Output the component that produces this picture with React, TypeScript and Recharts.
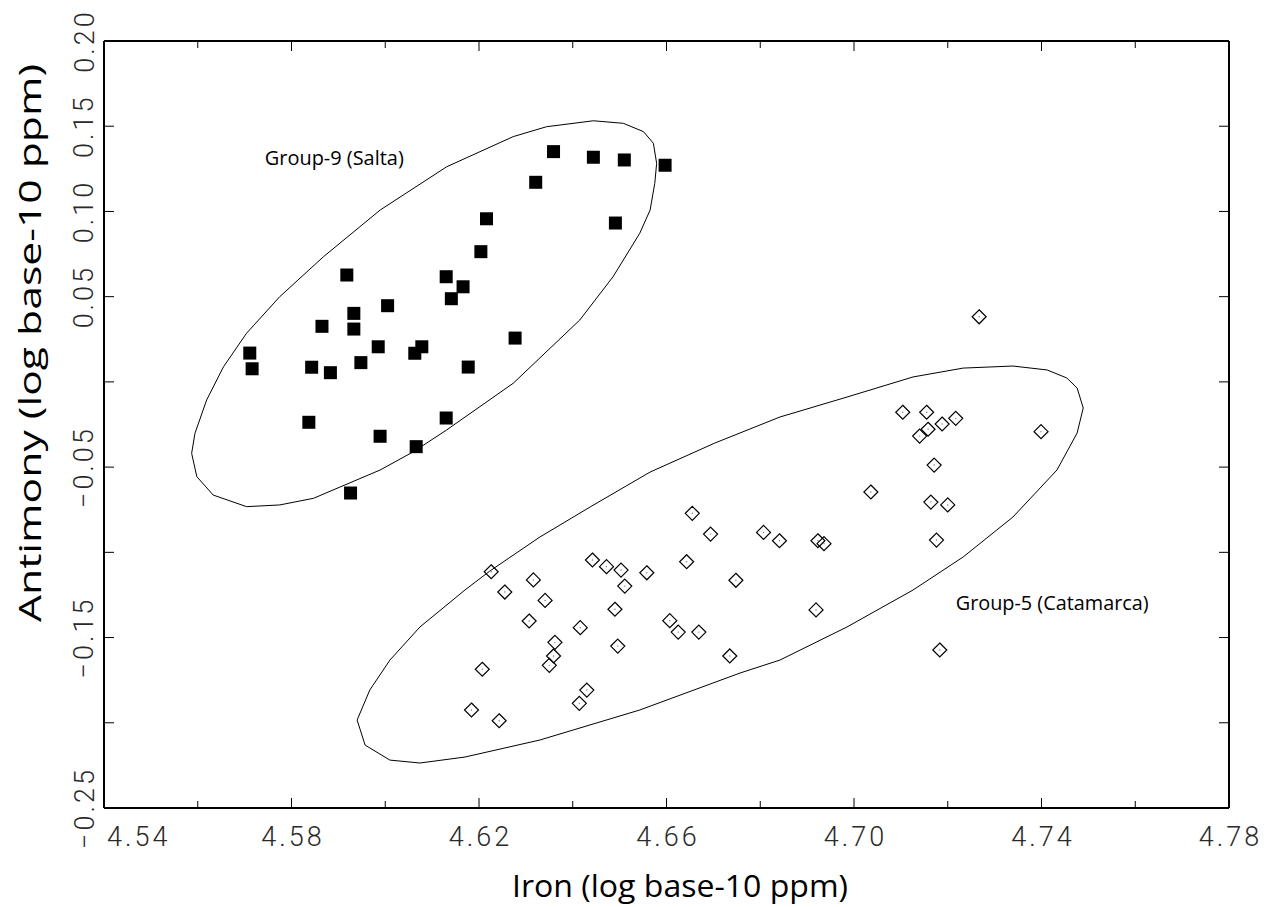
import { ScatterChart, Scatter, XAxis, YAxis, ReferenceDot } from 'recharts'

// Group-9 (Salta) – filled squares
const salta = [
  { x: 4.6359, y: 0.1351 }, { x: 4.6444, y: 0.1318 }, { x: 4.651, y: 0.1302 },
  { x: 4.6597, y: 0.1271 }, { x: 4.6321, y: 0.1171 }, { x: 4.6216, y: 0.0957 },
  { x: 4.6491, y: 0.0932 }, { x: 4.6204, y: 0.0764 }, { x: 4.5918, y: 0.0627 },
  { x: 4.613, y: 0.0617 }, { x: 4.6166, y: 0.0558 }, { x: 4.6141, y: 0.0488 },
  { x: 4.6005, y: 0.0447 }, { x: 4.5933, y: 0.0402 }, { x: 4.5865, y: 0.0326 },
  { x: 4.5933, y: 0.031 }, { x: 4.6277, y: 0.0257 }, { x: 4.5985, y: 0.0206 },
  { x: 4.6078, y: 0.0206 }, { x: 4.6063, y: 0.0168 }, { x: 4.5711, y: 0.0169 },
  { x: 4.5948, y: 0.0113 }, { x: 4.6177, y: 0.0087 }, { x: 4.5716, y: 0.0077 },
  { x: 4.5843, y: 0.0086 }, { x: 4.5883, y: 0.0054 }, { x: 4.5837, y: -0.0237 },
  { x: 4.613, y: -0.0212 }, { x: 4.5989, y: -0.0319 }, { x: 4.6066, y: -0.038 },
  { x: 4.5926, y: -0.0652 },
]

// Group-5 (Catamarca) – open diamonds
const catamarca = [
  { x: 4.6655, y: -0.0771 }, { x: 4.6694, y: -0.0893 }, { x: 4.6807, y: -0.0883 },
  { x: 4.6841, y: -0.0932 }, { x: 4.6442, y: -0.1045 }, { x: 4.6472, y: -0.1084 },
  { x: 4.6503, y: -0.1104 }, { x: 4.6558, y: -0.112 }, { x: 4.6643, y: -0.1055 },
  { x: 4.6226, y: -0.1114 }, { x: 4.6316, y: -0.1162 }, { x: 4.6511, y: -0.1198 },
  { x: 4.6748, y: -0.1164 }, { x: 4.6255, y: -0.1233 }, { x: 4.6341, y: -0.1282 },
  { x: 4.649, y: -0.1334 }, { x: 4.6307, y: -0.1403 }, { x: 4.6416, y: -0.1442 },
  { x: 4.6607, y: -0.1401 }, { x: 4.6625, y: -0.1468 }, { x: 4.6669, y: -0.1468 },
  { x: 4.6362, y: -0.1528 }, { x: 4.6359, y: -0.1608 }, { x: 4.635, y: -0.1663 },
  { x: 4.6496, y: -0.155 }, { x: 4.6735, y: -0.1608 }, { x: 4.6207, y: -0.1686 },
  { x: 4.643, y: -0.1808 }, { x: 4.6414, y: -0.1886 }, { x: 4.6184, y: -0.1925 },
  { x: 4.6243, y: -0.1988 }, { x: 4.7267, y: 0.0382 }, { x: 4.7104, y: -0.0178 },
  { x: 4.7155, y: -0.0178 }, { x: 4.7217, y: -0.0214 }, { x: 4.7188, y: -0.0247 },
  { x: 4.7158, y: -0.0278 }, { x: 4.714, y: -0.0318 }, { x: 4.7399, y: -0.0292 },
  { x: 4.7171, y: -0.0488 }, { x: 4.7036, y: -0.0646 }, { x: 4.7164, y: -0.0705 },
  { x: 4.72, y: -0.0722 }, { x: 4.6923, y: -0.0932 }, { x: 4.6936, y: -0.0949 },
  { x: 4.7176, y: -0.0928 }, { x: 4.6919, y: -0.1338 }, { x: 4.7183, y: -0.1573 },
]

// group outlines
const saltaEllipse = [
  { x: 4.6444, y: 0.1532 }, { x: 4.6508, y: 0.1517 }, { x: 4.6551, y: 0.1468 },
  { x: 4.6572, y: 0.14 }, { x: 4.6579, y: 0.1282 }, { x: 4.6575, y: 0.1165 },
  { x: 4.6565, y: 0.1008 }, { x: 4.6543, y: 0.0872 }, { x: 4.6486, y: 0.0617 },
  { x: 4.6415, y: 0.0363 }, { x: 4.6273, y: -0.0008 }, { x: 4.6131, y: -0.0282 },
  { x: 4.606, y: -0.041 }, { x: 4.5989, y: -0.0517 }, { x: 4.5847, y: -0.0683 },
  { x: 4.5775, y: -0.0722 }, { x: 4.5704, y: -0.0732 }, { x: 4.5633, y: -0.0664 },
  { x: 4.5598, y: -0.0556 }, { x: 4.5587, y: -0.0419 }, { x: 4.5594, y: -0.0302 },
  { x: 4.5619, y: -0.0106 }, { x: 4.5655, y: 0.0089 }, { x: 4.5704, y: 0.0285 },
  { x: 4.5775, y: 0.05 }, { x: 4.5868, y: 0.0734 }, { x: 4.5989, y: 0.1008 },
  { x: 4.6131, y: 0.1262 }, { x: 4.6273, y: 0.1439 }, { x: 4.6344, y: 0.1497 },
]

const catamarcaEllipse = [
  { x: 4.594, y: -0.1984 }, { x: 4.5967, y: -0.1808 }, { x: 4.601, y: -0.1632 },
  { x: 4.6074, y: -0.1438 }, { x: 4.617, y: -0.1221 }, { x: 4.6223, y: -0.111 },
  { x: 4.633, y: -0.091 }, { x: 4.6437, y: -0.0734 }, { x: 4.6565, y: -0.0529 },
  { x: 4.6703, y: -0.0359 }, { x: 4.6842, y: -0.0206 }, { x: 4.6985, y: -0.0089 },
  { x: 4.7126, y: 0.0029 }, { x: 4.7233, y: 0.0081 }, { x: 4.7339, y: 0.0093 },
  { x: 4.7412, y: 0.007 }, { x: 4.7454, y: 0.0023 }, { x: 4.7476, y: -0.0036 },
  { x: 4.7489, y: -0.0153 }, { x: 4.7476, y: -0.03 }, { x: 4.7433, y: -0.0517 },
  { x: 4.7339, y: -0.0793 }, { x: 4.7233, y: -0.1027 }, { x: 4.7126, y: -0.1221 },
  { x: 4.6985, y: -0.1438 }, { x: 4.6842, y: -0.1632 }, { x: 4.6757, y: -0.1708 },
  { x: 4.6543, y: -0.1925 }, { x: 4.633, y: -0.2101 }, { x: 4.617, y: -0.2201 },
  { x: 4.6074, y: -0.2236 }, { x: 4.601, y: -0.2219 }, { x: 4.5957, y: -0.2131 },
]

const groupLabels = [
  { name: 'Group-9 (Salta)', x: 4.5743, y: 0.1272 },
  { name: 'Group-5 (Catamarca)', x: 4.7217, y: -0.1338 },
]

const xTicks = [4.54, 4.56, 4.58, 4.6, 4.62, 4.64, 4.66, 4.68, 4.7, 4.72, 4.74, 4.76, 4.78]
const xLabelTicks = [4.54, 4.58, 4.62, 4.66, 4.7, 4.74, 4.78]
const yTicks = [-0.25, -0.2, -0.15, -0.1, -0.05, 0, 0.05, 0.1, 0.15, 0.2]
const yLabelTicks = [0.2, 0.15, 0.1, 0.05, -0.05, -0.15, -0.25]

const xTitle = 'Iron (log base-10 ppm)'
const yTitle = 'Antimony (log base-10 ppm)'

const has = (list: number[], v: number) => list.some((t) => Math.abs(t - v) < 1e-6)
const fmt = (v: number) => (v < 0 ? '\u2212' : '') + Math.abs(v).toFixed(2)

const tickFont = {
  fontFamily: 'Roboto, "Liberation Sans", sans-serif',
  fontWeight: 300,
  fontSize: 27,
  letterSpacing: 3,
  fill: '#2a2a2a',
}
const titleFont = { fontFamily: '"Open Sans", "Noto Sans", sans-serif', fontSize: 31, fill: '#000' }

function BottomTick({ x, y, payload }: any) {
  const v = payload.value
  const major = has(xLabelTicks, v)
  const first = Math.abs(v - xTicks[0]) < 1e-6
  return (
    <g>
      <line x1={x} x2={x} y1={y} y2={y - (major ? 10 : 7)} stroke="#000" strokeWidth={1} />
      {major && (
        <text x={first ? x + 3 : x + 1.5} y={y + 38} textAnchor={first ? 'start' : 'middle'} {...tickFont}>
          {v.toFixed(2)}
        </text>
      )}
    </g>
  )
}

function TopTick({ x, y, payload }: any) {
  const major = has(xLabelTicks, payload.value)
  return <line x1={x} x2={x} y1={y} y2={y + (major ? 10 : 7)} stroke="#000" strokeWidth={1} />
}

function LeftTick({ x, y, payload }: any) {
  const v = payload.value
  const bx = x - 12
  return (
    <g>
      <line x1={x} x2={x + 10} y1={y} y2={y} stroke="#000" strokeWidth={1} />
      {has(yLabelTicks, v) && (
        <text x={bx} y={y + 1.5} textAnchor="middle" transform={`rotate(-90, ${bx}, ${y})`} {...tickFont}>
          {fmt(v)}
        </text>
      )}
    </g>
  )
}

function RightTick({ x, y }: any) {
  return <line x1={x} x2={x - 10} y1={y} y2={y} stroke="#000" strokeWidth={1} />
}

const Square = ({ cx, cy }: any) => (
  <rect x={cx - 6.5} y={cy - 6.5} width={13} height={13} fill="#000" />
)

const Diamond = ({ cx, cy }: any) => (
  <g>
    <path
      d={`M${cx},${cy - 7}L${cx + 7},${cy}L${cx},${cy + 7}L${cx - 7},${cy}Z`}
      fill="none"
      stroke="#000"
      strokeWidth={1.2}
    />
    <circle cx={cx} cy={cy} r={0.7} fill="#777" />
  </g>
)

const axisLine = { stroke: '#000', strokeWidth: 2 }

export default function App() {
  return (
    <div style={{ position: 'absolute', left: 0, top: 0, background: '#fff' }}>
      <ScatterChart width={1264} height={907} margin={{ top: 40, right: 34, bottom: 0, left: 0 }}>
        <XAxis
          type="number"
          dataKey="x"
          domain={[4.54, 4.78]}
          ticks={xTicks}
          interval={0}
          allowDataOverflow
          height={99}
          axisLine={axisLine}
          tickLine={false}
          tickSize={0}
          tickMargin={0}
          tick={<BottomTick />}
          label={{
            content: (p: any) => (
              <text x={p.viewBox.x + 576} y={p.viewBox.y + 89} textAnchor="middle" textLength={336} lengthAdjust="spacingAndGlyphs" {...titleFont}>
                {xTitle}
              </text>
            ),
          }}
        />
        <XAxis
          xAxisId="top"
          orientation="top"
          type="number"
          dataKey="x"
          domain={[4.54, 4.78]}
          ticks={xTicks}
          interval={0}
          allowDataOverflow
          height={1}
          axisLine={axisLine}
          tickLine={false}
          tickSize={0}
          tickMargin={0}
          tick={<TopTick />}
        />
        <YAxis
          type="number"
          dataKey="y"
          domain={[-0.25, 0.2]}
          ticks={yTicks}
          interval={0}
          allowDataOverflow
          width={104}
          axisLine={axisLine}
          tickLine={false}
          tickSize={0}
          tickMargin={0}
          tick={<LeftTick />}
          label={{
            content: (p: any) => {
              const cx = 41
              const cy = p.viewBox.y + 302
              return (
                <text x={cx} y={cy} textAnchor="middle" transform={`rotate(-90, ${cx}, ${cy})`} textLength={558} lengthAdjust="spacingAndGlyphs" {...titleFont}>
                  {yTitle}
                </text>
              )
            },
          }}
        />
        <YAxis
          yAxisId="right"
          orientation="right"
          type="number"
          dataKey="y"
          domain={[-0.25, 0.2]}
          ticks={yTicks}
          interval={0}
          allowDataOverflow
          width={1}
          axisLine={axisLine}
          tickLine={false}
          tickSize={0}
          tickMargin={0}
          tick={<RightTick />}
        />
        <Scatter
          data={saltaEllipse}
          xAxisId="top"
          yAxisId="right"
          line={{ stroke: '#000', strokeWidth: 1 }}
          lineJointType="linearClosed"
          shape={() => <g />}
          isAnimationActive={false}
        />
        <Scatter
          data={catamarcaEllipse}
          xAxisId="top"
          yAxisId="right"
          line={{ stroke: '#000', strokeWidth: 1 }}
          lineJointType="linearClosed"
          shape={() => <g />}
          isAnimationActive={false}
        />
        <Scatter data={salta} shape={<Square />} isAnimationActive={false} />
        <Scatter data={catamarca} shape={<Diamond />} isAnimationActive={false} />
        {groupLabels.map((g, i) => (
          <ReferenceDot
            key={g.name}
            x={g.x}
            y={g.y}
            r={0}
            ifOverflow="visible"
            shape={(p: any) => (
              <text
                x={p.cx}
                y={p.cy}
                textLength={i === 0 ? 139 : 193}
                lengthAdjust="spacingAndGlyphs"
                fontFamily='"Open Sans", "Noto Sans", sans-serif'
                fontSize={20}
                fill="#000"
              >
                {g.name}
              </text>
            )}
          />
        ))}
      </ScatterChart>
    </div>
  )
}
